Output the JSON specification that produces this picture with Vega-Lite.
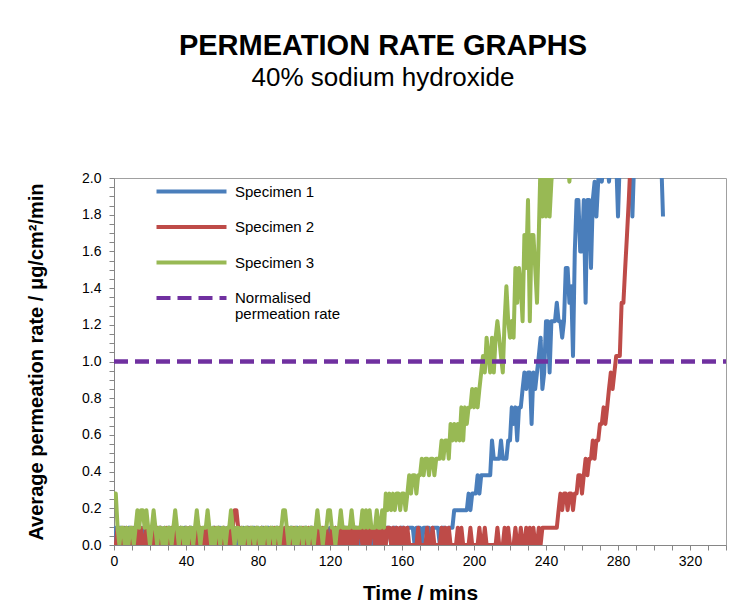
{
  "$schema": "https://vega.github.io/schema/vega-lite/v6.json",
  "width": 612,
  "height": 367,
  "autosize": {"type": "none"},
  "padding": {"left": 114, "top": 178, "right": 26, "bottom": 65},
  "background": "white",
  "title": {
    "text": "PERMEATION RATE GRAPHS",
    "subtitle": "40% sodium hydroxide",
    "anchor": "middle",
    "dx": -37,
    "offset": 80,
    "font": "Liberation Sans",
    "fontSize": 29,
    "fontWeight": "bold",
    "color": "black",
    "subtitleFont": "Liberation Sans",
    "subtitleFontSize": 26,
    "subtitleColor": "black",
    "subtitlePadding": 4
  },
  "config": {
    "font": "Liberation Sans",
    "view": {"stroke": "#a0a0a0", "strokeWidth": 1},
    "style": {"guide-label": {"lineHeight": 16}},
    "axis": {
      "grid": false,
      "domainColor": "#868686",
      "tickColor": "#868686",
      "labelColor": "black",
      "titleColor": "black",
      "labelFont": "Liberation Sans",
      "titleFont": "Liberation Sans",
      "labelFontSize": 14,
      "titleFontWeight": "bold",
      "labelOverlap": false,
      "labelFlush": false,
      "tickSize": 5
    },
    "legend": {
      "symbolType": "M-7,0H7",
      "symbolSize": 100,
      "symbolStrokeWidth": 4,
      "labelOffset": 36,
      "labelFontSize": 15,
      "labelFont": "Liberation Sans",
      "labelColor": "black",
      "labelLimit": 300,
      "rowPadding": 18.5,
      "padding": 0
    }
  },
  "encoding": {
    "x": {
      "field": "t",
      "type": "quantitative",
      "scale": {"domain": [0, 340], "nice": false, "zero": false},
      "axis": {
        "title": "Time / mins",
        "titleFontSize": 21,
        "titlePadding": 14,
        "labelPadding": 4,
        "values": [0,10,20,30,40,50,60,70,80,90,100,110,120,130,140,150,160,170,180,190,200,210,220,230,240,250,260,270,280,290,300,310,320,330,340],
        "labelExpr": "datum.value % 40 == 0 ? datum.label : ''"
      }
    },
    "y": {
      "field": "v",
      "type": "quantitative",
      "scale": {"domain": [0, 2], "nice": false},
      "axis": {
        "title": "Average permeation rate / μg/cm²/min",
        "titleFontSize": 20,
        "titlePadding": 35,
        "labelPadding": 8,
        "values": [0,0.05,0.1,0.15,0.2,0.25,0.3,0.35,0.4,0.45,0.5,0.55,0.6,0.65,0.7,0.75,0.8,0.85,0.9,0.95,1,1.05,1.1,1.15,1.2,1.25,1.3,1.35,1.4,1.45,1.5,1.55,1.6,1.65,1.7,1.75,1.8,1.85,1.9,1.95,2],
        "labelExpr": "abs(datum.value*5 - round(datum.value*5)) < 0.001 ? format(datum.value, '.1f') : ''"
      }
    },
    "color": {
      "field": "series",
      "type": "nominal",
      "scale": {
        "domain": ["Specimen 1", "Specimen 2", "Specimen 3", "Normalised permeation rate"],
        "range": ["#4A7EBB", "#BE4B48", "#98B954", "#7030A0"]
      },
      "legend": {
        "title": null,
        "orient": "none",
        "legendX": 70,
        "legendY": 6,
        "labelExpr": "datum.label == 'Normalised permeation rate' ? ['Normalised', 'permeation rate'] : datum.label"
      }
    },
    "strokeDash": {
      "field": "series",
      "type": "nominal",
      "scale": {
        "domain": ["Specimen 1", "Specimen 2", "Specimen 3", "Normalised permeation rate"],
        "range": [[1, 0], [1, 0], [1, 0], [14, 7]]
      },
      "legend": {
        "title": null,
        "orient": "none",
        "legendX": 70,
        "legendY": 6,
        "labelExpr": "datum.label == 'Normalised permeation rate' ? ['Normalised', 'permeation rate'] : datum.label"
      }
    }
  },
  "layer": [
    {
      "data": {
        "values": [
{"t":0,"Specimen 1":0,"Specimen 2":0,"Specimen 3":0.28},
{"t":1,"Specimen 1":0.094,"Specimen 2":0,"Specimen 3":0.28},
{"t":2,"Specimen 1":0,"Specimen 2":0.094,"Specimen 3":0.094},
{"t":3,"Specimen 1":0.094,"Specimen 2":0,"Specimen 3":0},
{"t":4,"Specimen 1":0.094,"Specimen 2":0,"Specimen 3":0.094},
{"t":5,"Specimen 1":0,"Specimen 2":0.094,"Specimen 3":0.094},
{"t":6,"Specimen 1":0.094,"Specimen 2":0,"Specimen 3":0},
{"t":7,"Specimen 1":0,"Specimen 2":0.094,"Specimen 3":0.094},
{"t":8,"Specimen 1":0.094,"Specimen 2":0,"Specimen 3":0},
{"t":9,"Specimen 1":0.094,"Specimen 2":0,"Specimen 3":0.094},
{"t":10,"Specimen 1":0,"Specimen 2":0.094,"Specimen 3":0.094},
{"t":11,"Specimen 1":0.094,"Specimen 2":0,"Specimen 3":0},
{"t":12,"Specimen 1":0.094,"Specimen 2":0,"Specimen 3":0.094},
{"t":13,"Specimen 1":0,"Specimen 2":0.094,"Specimen 3":0.19},
{"t":14,"Specimen 1":0.094,"Specimen 2":0,"Specimen 3":0.094},
{"t":15,"Specimen 1":0,"Specimen 2":0.094,"Specimen 3":0.19},
{"t":16,"Specimen 1":0.094,"Specimen 2":0,"Specimen 3":0.19},
{"t":17,"Specimen 1":0.094,"Specimen 2":0,"Specimen 3":0.094},
{"t":18,"Specimen 1":0,"Specimen 2":0.094,"Specimen 3":0.19},
{"t":19,"Specimen 1":0.094,"Specimen 2":0,"Specimen 3":0.094},
{"t":20,"Specimen 1":0.094,"Specimen 2":0,"Specimen 3":0},
{"t":21,"Specimen 1":0,"Specimen 2":0.094,"Specimen 3":0.094},
{"t":22,"Specimen 1":0.094,"Specimen 2":0,"Specimen 3":0.19},
{"t":23,"Specimen 1":0.094,"Specimen 2":0,"Specimen 3":0.094},
{"t":24,"Specimen 1":0,"Specimen 2":0.094,"Specimen 3":0},
{"t":25,"Specimen 1":0.094,"Specimen 2":0,"Specimen 3":0.094},
{"t":26,"Specimen 1":0.094,"Specimen 2":0.094,"Specimen 3":0.094},
{"t":27,"Specimen 1":0,"Specimen 2":0,"Specimen 3":0},
{"t":28,"Specimen 1":0.094,"Specimen 2":0,"Specimen 3":0.094},
{"t":29,"Specimen 1":0,"Specimen 2":0.094,"Specimen 3":0},
{"t":30,"Specimen 1":0.094,"Specimen 2":0,"Specimen 3":0.094},
{"t":31,"Specimen 1":0.094,"Specimen 2":0,"Specimen 3":0.094},
{"t":32,"Specimen 1":0,"Specimen 2":0.094,"Specimen 3":0},
{"t":33,"Specimen 1":0.094,"Specimen 2":0,"Specimen 3":0.094},
{"t":34,"Specimen 1":0.094,"Specimen 2":0.094,"Specimen 3":0.19},
{"t":35,"Specimen 1":0.094,"Specimen 2":0,"Specimen 3":0.094},
{"t":36,"Specimen 1":0,"Specimen 2":0,"Specimen 3":0},
{"t":37,"Specimen 1":0.094,"Specimen 2":0.094,"Specimen 3":0.094},
{"t":38,"Specimen 1":0,"Specimen 2":0,"Specimen 3":0.094},
{"t":39,"Specimen 1":0.094,"Specimen 2":0,"Specimen 3":0},
{"t":40,"Specimen 1":0.094,"Specimen 2":0.094,"Specimen 3":0.094},
{"t":41,"Specimen 1":0,"Specimen 2":0,"Specimen 3":0},
{"t":42,"Specimen 1":0.094,"Specimen 2":0.094,"Specimen 3":0.094},
{"t":43,"Specimen 1":0.094,"Specimen 2":0,"Specimen 3":0.094},
{"t":44,"Specimen 1":0,"Specimen 2":0,"Specimen 3":0},
{"t":45,"Specimen 1":0.094,"Specimen 2":0.094,"Specimen 3":0.094},
{"t":46,"Specimen 1":0,"Specimen 2":0,"Specimen 3":0.19},
{"t":47,"Specimen 1":0.094,"Specimen 2":0,"Specimen 3":0.094},
{"t":48,"Specimen 1":0.094,"Specimen 2":0.094,"Specimen 3":0},
{"t":49,"Specimen 1":0,"Specimen 2":0,"Specimen 3":0.094},
{"t":50,"Specimen 1":0.094,"Specimen 2":0,"Specimen 3":0.094},
{"t":51,"Specimen 1":0.094,"Specimen 2":0.094,"Specimen 3":0.094},
{"t":52,"Specimen 1":0,"Specimen 2":0,"Specimen 3":0.19},
{"t":53,"Specimen 1":0.094,"Specimen 2":0.094,"Specimen 3":0.094},
{"t":54,"Specimen 1":0,"Specimen 2":0,"Specimen 3":0},
{"t":55,"Specimen 1":0.094,"Specimen 2":0,"Specimen 3":0.094},
{"t":56,"Specimen 1":0.094,"Specimen 2":0.094,"Specimen 3":0},
{"t":57,"Specimen 1":0,"Specimen 2":0,"Specimen 3":0.094},
{"t":58,"Specimen 1":0.094,"Specimen 2":0.094,"Specimen 3":0.094},
{"t":59,"Specimen 1":0.094,"Specimen 2":0,"Specimen 3":0},
{"t":60,"Specimen 1":0,"Specimen 2":0,"Specimen 3":0.094},
{"t":61,"Specimen 1":0.094,"Specimen 2":0.094,"Specimen 3":0.094},
{"t":62,"Specimen 1":0,"Specimen 2":0,"Specimen 3":0},
{"t":63,"Specimen 1":0.094,"Specimen 2":0,"Specimen 3":0.094},
{"t":64,"Specimen 1":0.094,"Specimen 2":0.094,"Specimen 3":0.094},
{"t":65,"Specimen 1":0,"Specimen 2":0,"Specimen 3":0.19},
{"t":66,"Specimen 1":0.094,"Specimen 2":0.094,"Specimen 3":0.094},
{"t":67,"Specimen 1":0.094,"Specimen 2":0.19,"Specimen 3":0},
{"t":68,"Specimen 1":0,"Specimen 2":0.19,"Specimen 3":0.094},
{"t":69,"Specimen 1":0.094,"Specimen 2":0.094,"Specimen 3":0.094},
{"t":70,"Specimen 1":0.094,"Specimen 2":0,"Specimen 3":0},
{"t":71,"Specimen 1":0,"Specimen 2":0.094,"Specimen 3":0.094},
{"t":72,"Specimen 1":0.094,"Specimen 2":0,"Specimen 3":0},
{"t":73,"Specimen 1":0,"Specimen 2":0,"Specimen 3":0.094},
{"t":74,"Specimen 1":0.094,"Specimen 2":0.094,"Specimen 3":0.094},
{"t":75,"Specimen 1":0.094,"Specimen 2":0,"Specimen 3":0},
{"t":76,"Specimen 1":0,"Specimen 2":0.094,"Specimen 3":0.094},
{"t":77,"Specimen 1":0.094,"Specimen 2":0,"Specimen 3":0.094},
{"t":78,"Specimen 1":0.094,"Specimen 2":0,"Specimen 3":0},
{"t":79,"Specimen 1":0,"Specimen 2":0.094,"Specimen 3":0.094},
{"t":80,"Specimen 1":0.094,"Specimen 2":0,"Specimen 3":0.094},
{"t":81,"Specimen 1":0,"Specimen 2":0,"Specimen 3":0},
{"t":82,"Specimen 1":0.094,"Specimen 2":0.094,"Specimen 3":0.094},
{"t":83,"Specimen 1":0.094,"Specimen 2":0,"Specimen 3":0},
{"t":84,"Specimen 1":0,"Specimen 2":0.094,"Specimen 3":0.094},
{"t":85,"Specimen 1":0.094,"Specimen 2":0,"Specimen 3":0.094},
{"t":86,"Specimen 1":0.094,"Specimen 2":0,"Specimen 3":0},
{"t":87,"Specimen 1":0,"Specimen 2":0.094,"Specimen 3":0.094},
{"t":88,"Specimen 1":0.094,"Specimen 2":0,"Specimen 3":0.094},
{"t":89,"Specimen 1":0,"Specimen 2":0.094,"Specimen 3":0},
{"t":90,"Specimen 1":0.094,"Specimen 2":0,"Specimen 3":0.094},
{"t":91,"Specimen 1":0.094,"Specimen 2":0,"Specimen 3":0.094},
{"t":92,"Specimen 1":0,"Specimen 2":0.094,"Specimen 3":0},
{"t":93,"Specimen 1":0.094,"Specimen 2":0,"Specimen 3":0.094},
{"t":94,"Specimen 1":0,"Specimen 2":0,"Specimen 3":0.19},
{"t":95,"Specimen 1":0.094,"Specimen 2":0.094,"Specimen 3":0.19},
{"t":96,"Specimen 1":0.094,"Specimen 2":0,"Specimen 3":0.094},
{"t":97,"Specimen 1":0,"Specimen 2":0.094,"Specimen 3":0},
{"t":98,"Specimen 1":0.094,"Specimen 2":0,"Specimen 3":0.094},
{"t":99,"Specimen 1":0.094,"Specimen 2":0,"Specimen 3":0.094},
{"t":100,"Specimen 1":0,"Specimen 2":0.094,"Specimen 3":0},
{"t":101,"Specimen 1":0.094,"Specimen 2":0,"Specimen 3":0.094},
{"t":102,"Specimen 1":0.094,"Specimen 2":0,"Specimen 3":0},
{"t":103,"Specimen 1":0,"Specimen 2":0.094,"Specimen 3":0.094},
{"t":104,"Specimen 1":0.094,"Specimen 2":0,"Specimen 3":0.094},
{"t":105,"Specimen 1":0,"Specimen 2":0.094,"Specimen 3":0},
{"t":106,"Specimen 1":0.094,"Specimen 2":0,"Specimen 3":0.094},
{"t":107,"Specimen 1":0.094,"Specimen 2":0,"Specimen 3":0.094},
{"t":108,"Specimen 1":0,"Specimen 2":0.094,"Specimen 3":0},
{"t":109,"Specimen 1":0.094,"Specimen 2":0,"Specimen 3":0.094},
{"t":110,"Specimen 1":0.094,"Specimen 2":0.094,"Specimen 3":0.094},
{"t":111,"Specimen 1":0,"Specimen 2":0,"Specimen 3":0},
{"t":112,"Specimen 1":0.094,"Specimen 2":0,"Specimen 3":0.094},
{"t":113,"Specimen 1":0,"Specimen 2":0.094,"Specimen 3":0.19},
{"t":114,"Specimen 1":0.094,"Specimen 2":0,"Specimen 3":0.094},
{"t":115,"Specimen 1":0.094,"Specimen 2":0,"Specimen 3":0.094},
{"t":116,"Specimen 1":0,"Specimen 2":0.094,"Specimen 3":0},
{"t":117,"Specimen 1":0.094,"Specimen 2":0,"Specimen 3":0.094},
{"t":118,"Specimen 1":0.094,"Specimen 2":0.094,"Specimen 3":0.094},
{"t":119,"Specimen 1":0,"Specimen 2":0,"Specimen 3":0.19},
{"t":120,"Specimen 1":0.094,"Specimen 2":0,"Specimen 3":0.19},
{"t":121,"Specimen 1":0.094,"Specimen 2":0.094,"Specimen 3":0.094},
{"t":122,"Specimen 1":0,"Specimen 2":0,"Specimen 3":0.094},
{"t":123,"Specimen 1":0.094,"Specimen 2":0.094,"Specimen 3":0},
{"t":124,"Specimen 1":0,"Specimen 2":0,"Specimen 3":0.094},
{"t":125,"Specimen 1":0.094,"Specimen 2":0,"Specimen 3":0.094},
{"t":126,"Specimen 1":0.094,"Specimen 2":0.094,"Specimen 3":0.19},
{"t":127,"Specimen 1":0,"Specimen 2":0,"Specimen 3":0.094},
{"t":128,"Specimen 1":0.094,"Specimen 2":0.094,"Specimen 3":0.094},
{"t":129,"Specimen 1":0.094,"Specimen 2":0,"Specimen 3":0.094},
{"t":130,"Specimen 1":0,"Specimen 2":0.094,"Specimen 3":0.094},
{"t":131,"Specimen 1":0.094,"Specimen 2":0,"Specimen 3":0.094},
{"t":132,"Specimen 1":0.094,"Specimen 2":0.094,"Specimen 3":0.19},
{"t":133,"Specimen 1":0,"Specimen 2":0,"Specimen 3":0.094},
{"t":134,"Specimen 1":0.094,"Specimen 2":0.094,"Specimen 3":0.094},
{"t":135,"Specimen 1":0.094,"Specimen 2":0,"Specimen 3":0.094},
{"t":136,"Specimen 1":0,"Specimen 2":0.094,"Specimen 3":0.094},
{"t":137,"Specimen 1":0.094,"Specimen 2":0.094,"Specimen 3":0.094},
{"t":138,"Specimen 1":0.094,"Specimen 2":0,"Specimen 3":0.19},
{"t":139,"Specimen 1":0,"Specimen 2":0.094,"Specimen 3":0.094},
{"t":140,"Specimen 1":0.094,"Specimen 2":0,"Specimen 3":0.19},
{"t":141,"Specimen 1":0.094,"Specimen 2":0.094,"Specimen 3":0.094},
{"t":142,"Specimen 1":0.094,"Specimen 2":0,"Specimen 3":0.19},
{"t":143,"Specimen 1":0,"Specimen 2":0.094,"Specimen 3":0.094},
{"t":144,"Specimen 1":0.094,"Specimen 2":0.094,"Specimen 3":0.094},
{"t":145,"Specimen 1":0.094,"Specimen 2":0,"Specimen 3":0.094},
{"t":146,"Specimen 1":0,"Specimen 2":0.094,"Specimen 3":0.19},
{"t":147,"Specimen 1":0.094,"Specimen 2":0,"Specimen 3":0.094},
{"t":148,"Specimen 1":0.094,"Specimen 2":0.094,"Specimen 3":0.094},
{"t":149,"Specimen 1":0.094,"Specimen 2":0,"Specimen 3":0.19},
{"t":150,"Specimen 1":0,"Specimen 2":0.094,"Specimen 3":0.094},
{"t":151,"Specimen 1":0.094,"Specimen 2":0,"Specimen 3":0.28},
{"t":152,"Specimen 1":0.094,"Specimen 2":0.094,"Specimen 3":0.19},
{"t":153,"Specimen 1":0.094,"Specimen 2":0.094,"Specimen 3":0.28},
{"t":154,"Specimen 1":0,"Specimen 2":0,"Specimen 3":0.19},
{"t":155,"Specimen 1":0.094,"Specimen 2":0.094,"Specimen 3":0.28},
{"t":156,"Specimen 1":0.094,"Specimen 2":0,"Specimen 3":0.19},
{"t":157,"Specimen 1":0.094,"Specimen 2":0.094,"Specimen 3":0.28},
{"t":158,"Specimen 1":0,"Specimen 2":0,"Specimen 3":0.28},
{"t":159,"Specimen 1":0.094,"Specimen 2":0.094,"Specimen 3":0.19},
{"t":160,"Specimen 1":0.094,"Specimen 2":0,"Specimen 3":0.28},
{"t":161,"Specimen 1":0.094,"Specimen 2":0.094,"Specimen 3":0.28},
{"t":162,"Specimen 1":0,"Specimen 2":0,"Specimen 3":0.19},
{"t":163,"Specimen 1":0.094,"Specimen 2":0.094,"Specimen 3":0.28},
{"t":164,"Specimen 1":0.094,"Specimen 2":0,"Specimen 3":0.38},
{"t":165,"Specimen 1":0.094,"Specimen 2":0,"Specimen 3":0.28},
{"t":166,"Specimen 1":0.094,"Specimen 2":0,"Specimen 3":0.38},
{"t":167,"Specimen 1":0,"Specimen 2":0,"Specimen 3":0.38},
{"t":168,"Specimen 1":0.094,"Specimen 2":0,"Specimen 3":0.28},
{"t":169,"Specimen 1":0.094,"Specimen 2":0.094,"Specimen 3":0.38},
{"t":170,"Specimen 1":0.094,"Specimen 2":0,"Specimen 3":0.38},
{"t":171,"Specimen 1":0,"Specimen 2":0,"Specimen 3":0.47},
{"t":172,"Specimen 1":0.094,"Specimen 2":0,"Specimen 3":0.38},
{"t":173,"Specimen 1":0.094,"Specimen 2":0,"Specimen 3":0.47},
{"t":174,"Specimen 1":0.094,"Specimen 2":0.094,"Specimen 3":0.47},
{"t":175,"Specimen 1":0.094,"Specimen 2":0,"Specimen 3":0.38},
{"t":176,"Specimen 1":0,"Specimen 2":0,"Specimen 3":0.47},
{"t":177,"Specimen 1":0.094,"Specimen 2":0.094,"Specimen 3":0.47},
{"t":178,"Specimen 1":0.094,"Specimen 2":0,"Specimen 3":0.38},
{"t":179,"Specimen 1":0.094,"Specimen 2":0,"Specimen 3":0.47},
{"t":180,"Specimen 1":0.094,"Specimen 2":0,"Specimen 3":0.47},
{"t":181,"Specimen 1":0,"Specimen 2":0,"Specimen 3":0.47},
{"t":182,"Specimen 1":0.094,"Specimen 2":0.094,"Specimen 3":0.57},
{"t":183,"Specimen 1":0.094,"Specimen 2":0,"Specimen 3":0.47},
{"t":184,"Specimen 1":0.094,"Specimen 2":0.094,"Specimen 3":0.57},
{"t":185,"Specimen 1":0,"Specimen 2":0,"Specimen 3":0.57},
{"t":186,"Specimen 1":0.094,"Specimen 2":0.094,"Specimen 3":0.47},
{"t":187,"Specimen 1":0.094,"Specimen 2":0,"Specimen 3":0.66},
{"t":188,"Specimen 1":0.094,"Specimen 2":0,"Specimen 3":0.57},
{"t":189,"Specimen 1":0.19,"Specimen 2":0,"Specimen 3":0.66},
{"t":190,"Specimen 1":0.19,"Specimen 2":0,"Specimen 3":0.57},
{"t":191,"Specimen 1":0.19,"Specimen 2":0.094,"Specimen 3":0.66},
{"t":192,"Specimen 1":0.19,"Specimen 2":0,"Specimen 3":0.57},
{"t":193,"Specimen 1":0.19,"Specimen 2":0.094,"Specimen 3":0.75},
{"t":194,"Specimen 1":0.19,"Specimen 2":0,"Specimen 3":0.57},
{"t":195,"Specimen 1":0.19,"Specimen 2":0,"Specimen 3":0.75},
{"t":196,"Specimen 1":0.19,"Specimen 2":0,"Specimen 3":0.66},
{"t":197,"Specimen 1":0.28,"Specimen 2":0,"Specimen 3":0.75},
{"t":198,"Specimen 1":0.19,"Specimen 2":0.094,"Specimen 3":0.75},
{"t":199,"Specimen 1":0.28,"Specimen 2":0,"Specimen 3":0.85},
{"t":200,"Specimen 1":0.28,"Specimen 2":0,"Specimen 3":0.75},
{"t":201,"Specimen 1":0.28,"Specimen 2":0,"Specimen 3":0.85},
{"t":202,"Specimen 1":0.38,"Specimen 2":0,"Specimen 3":0.75},
{"t":203,"Specimen 1":0.28,"Specimen 2":0.094,"Specimen 3":0.85},
{"t":204,"Specimen 1":0.38,"Specimen 2":0,"Specimen 3":0.94},
{"t":205,"Specimen 1":0.38,"Specimen 2":0,"Specimen 3":1.03},
{"t":206,"Specimen 1":0.38,"Specimen 2":0.094,"Specimen 3":0.94},
{"t":207,"Specimen 1":0.38,"Specimen 2":0,"Specimen 3":1.13},
{"t":208,"Specimen 1":0.38,"Specimen 2":0,"Specimen 3":1.03},
{"t":209,"Specimen 1":0.38,"Specimen 2":0,"Specimen 3":0.94},
{"t":210,"Specimen 1":0.57,"Specimen 2":0,"Specimen 3":1.13},
{"t":211,"Specimen 1":0.47,"Specimen 2":0,"Specimen 3":0.94},
{"t":212,"Specimen 1":0.47,"Specimen 2":0,"Specimen 3":1.13},
{"t":213,"Specimen 1":0.47,"Specimen 2":0.094,"Specimen 3":1.22},
{"t":214,"Specimen 1":0.47,"Specimen 2":0,"Specimen 3":1.13},
{"t":215,"Specimen 1":0.57,"Specimen 2":0,"Specimen 3":1.03},
{"t":216,"Specimen 1":0.47,"Specimen 2":0,"Specimen 3":0.94},
{"t":217,"Specimen 1":0.47,"Specimen 2":0.094,"Specimen 3":1.22},
{"t":218,"Specimen 1":0.47,"Specimen 2":0,"Specimen 3":1.41},
{"t":219,"Specimen 1":0.57,"Specimen 2":0.094,"Specimen 3":1.22},
{"t":220,"Specimen 1":0.57,"Specimen 2":0,"Specimen 3":1.13},
{"t":221,"Specimen 1":0.75,"Specimen 2":0,"Specimen 3":1.22},
{"t":222,"Specimen 1":0.66,"Specimen 2":0,"Specimen 3":1.13},
{"t":223,"Specimen 1":0.75,"Specimen 2":0.094,"Specimen 3":1.51},
{"t":224,"Specimen 1":0.57,"Specimen 2":0,"Specimen 3":1.32},
{"t":225,"Specimen 1":0.75,"Specimen 2":0,"Specimen 3":1.51},
{"t":226,"Specimen 1":0.75,"Specimen 2":0.094,"Specimen 3":1.41},
{"t":227,"Specimen 1":0.85,"Specimen 2":0,"Specimen 3":1.22},
{"t":228,"Specimen 1":0.94,"Specimen 2":0,"Specimen 3":1.69},
{"t":229,"Specimen 1":0.85,"Specimen 2":0.094,"Specimen 3":1.51},
{"t":230,"Specimen 1":0.94,"Specimen 2":0,"Specimen 3":1.88},
{"t":231,"Specimen 1":0.94,"Specimen 2":0.094,"Specimen 3":1.22},
{"t":232,"Specimen 1":0.66,"Specimen 2":0,"Specimen 3":1.69},
{"t":233,"Specimen 1":0.94,"Specimen 2":0.094,"Specimen 3":1.69},
{"t":234,"Specimen 1":0.85,"Specimen 2":0,"Specimen 3":1.51},
{"t":235,"Specimen 1":0.94,"Specimen 2":0,"Specimen 3":1.32},
{"t":236,"Specimen 1":1.03,"Specimen 2":0.094,"Specimen 3":1.69},
{"t":237,"Specimen 1":1.13,"Specimen 2":0,"Specimen 3":2.1},
{"t":238,"Specimen 1":0.85,"Specimen 2":0.094,"Specimen 3":1.79},
{"t":239,"Specimen 1":0.94,"Specimen 2":0.094,"Specimen 3":2.1},
{"t":240,"Specimen 1":1.22,"Specimen 2":0.094,"Specimen 3":1.79},
{"t":241,"Specimen 1":1.22,"Specimen 2":0.094,"Specimen 3":2.1},
{"t":242,"Specimen 1":0.94,"Specimen 2":0.094,"Specimen 3":1.79},
{"t":243,"Specimen 1":1.22,"Specimen 2":0.094,"Specimen 3":1.98},
{"t":244,"Specimen 1":1.22,"Specimen 2":0.094,"Specimen 3":2.1},
{"t":245,"Specimen 1":1.22,"Specimen 2":0.094,"Specimen 3":2.1},
{"t":246,"Specimen 1":1.32,"Specimen 2":0.094,"Specimen 3":2.1},
{"t":247,"Specimen 1":1.22,"Specimen 2":0.19,"Specimen 3":2.1},
{"t":248,"Specimen 1":1.22,"Specimen 2":0.28,"Specimen 3":2.1},
{"t":249,"Specimen 1":1.13,"Specimen 2":0.19,"Specimen 3":2.1},
{"t":250,"Specimen 1":1.22,"Specimen 2":0.28,"Specimen 3":2.1},
{"t":251,"Specimen 1":1.51,"Specimen 2":0.28,"Specimen 3":2.1},
{"t":252,"Specimen 1":1.51,"Specimen 2":0.19,"Specimen 3":2.1},
{"t":253,"Specimen 1":1.32,"Specimen 2":0.28,"Specimen 3":1.98},
{"t":254,"Specimen 1":1.41,"Specimen 2":0.28,"Specimen 3":2.1},
{"t":255,"Specimen 1":1.03,"Specimen 2":0.19},
{"t":256,"Specimen 1":1.6,"Specimen 2":0.28},
{"t":257,"Specimen 1":1.88,"Specimen 2":0.28},
{"t":258,"Specimen 1":1.88,"Specimen 2":0.38},
{"t":259,"Specimen 1":1.6,"Specimen 2":0.38},
{"t":260,"Specimen 1":1.6,"Specimen 2":0.28},
{"t":261,"Specimen 1":1.88,"Specimen 2":0.38},
{"t":262,"Specimen 1":1.32,"Specimen 2":0.47},
{"t":263,"Specimen 1":1.88,"Specimen 2":0.38},
{"t":264,"Specimen 1":1.88,"Specimen 2":0.47},
{"t":265,"Specimen 1":1.51,"Specimen 2":0.47},
{"t":266,"Specimen 1":1.88,"Specimen 2":0.57},
{"t":267,"Specimen 1":1.98,"Specimen 2":0.47},
{"t":268,"Specimen 1":1.79,"Specimen 2":0.57},
{"t":269,"Specimen 1":1.98,"Specimen 2":0.57},
{"t":270,"Specimen 1":2.1,"Specimen 2":0.66},
{"t":271,"Specimen 1":1.98,"Specimen 2":0.66},
{"t":272,"Specimen 1":2.1,"Specimen 2":0.75},
{"t":273,"Specimen 1":2.1,"Specimen 2":0.66},
{"t":274,"Specimen 1":2.1,"Specimen 2":0.75},
{"t":275,"Specimen 1":1.98,"Specimen 2":0.85},
{"t":276,"Specimen 1":2.1,"Specimen 2":0.94},
{"t":277,"Specimen 1":2.1,"Specimen 2":0.85},
{"t":278,"Specimen 1":2.1,"Specimen 2":0.94},
{"t":279,"Specimen 1":2.1,"Specimen 2":1.03},
{"t":280,"Specimen 1":1.79,"Specimen 2":1.03},
{"t":281,"Specimen 1":2.1,"Specimen 2":1.03},
{"t":282,"Specimen 1":2.1,"Specimen 2":1.32},
{"t":283,"Specimen 1":2.1,"Specimen 2":1.32},
{"t":284,"Specimen 1":2.1,"Specimen 2":1.51},
{"t":285,"Specimen 1":2.1,"Specimen 2":1.69},
{"t":286,"Specimen 1":2.1,"Specimen 2":1.88},
{"t":287,"Specimen 1":2.1,"Specimen 2":2.1},
{"t":288,"Specimen 1":1.79},
{"t":289,"Specimen 1":2.1},
{"t":290,"Specimen 1":2.1},
{"t":291,"Specimen 1":2.1},
{"t":292,"Specimen 1":2.1},
{"t":293,"Specimen 1":2.1},
{"t":294,"Specimen 1":2.1},
{"t":295,"Specimen 1":2.1},
{"t":296,"Specimen 1":2.1},
{"t":297,"Specimen 1":2.1},
{"t":298,"Specimen 1":2.1},
{"t":299,"Specimen 1":2.1},
{"t":300,"Specimen 1":2.1},
{"t":301,"Specimen 1":2.1},
{"t":302,"Specimen 1":2.1},
{"t":303,"Specimen 1":2.1},
{"t":304,"Specimen 1":2.1},
{"t":305,"Specimen 1":1.79}
        ]
      },
      "transform": [
        {"fold": ["Specimen 1", "Specimen 2", "Specimen 3"], "as": ["series", "v"]},
        {"filter": "isValid(datum.v)"}
      ],
      "mark": {"type": "line", "strokeWidth": 4, "strokeJoin": "round", "clip": true}
    },
    {
      "data": {
        "values": [
          {"t": 0, "series": "Normalised permeation rate", "v": 1},
          {"t": 340, "series": "Normalised permeation rate", "v": 1}
        ]
      },
      "mark": {"type": "line", "strokeWidth": 4.5, "clip": true}
    }
  ]
}
